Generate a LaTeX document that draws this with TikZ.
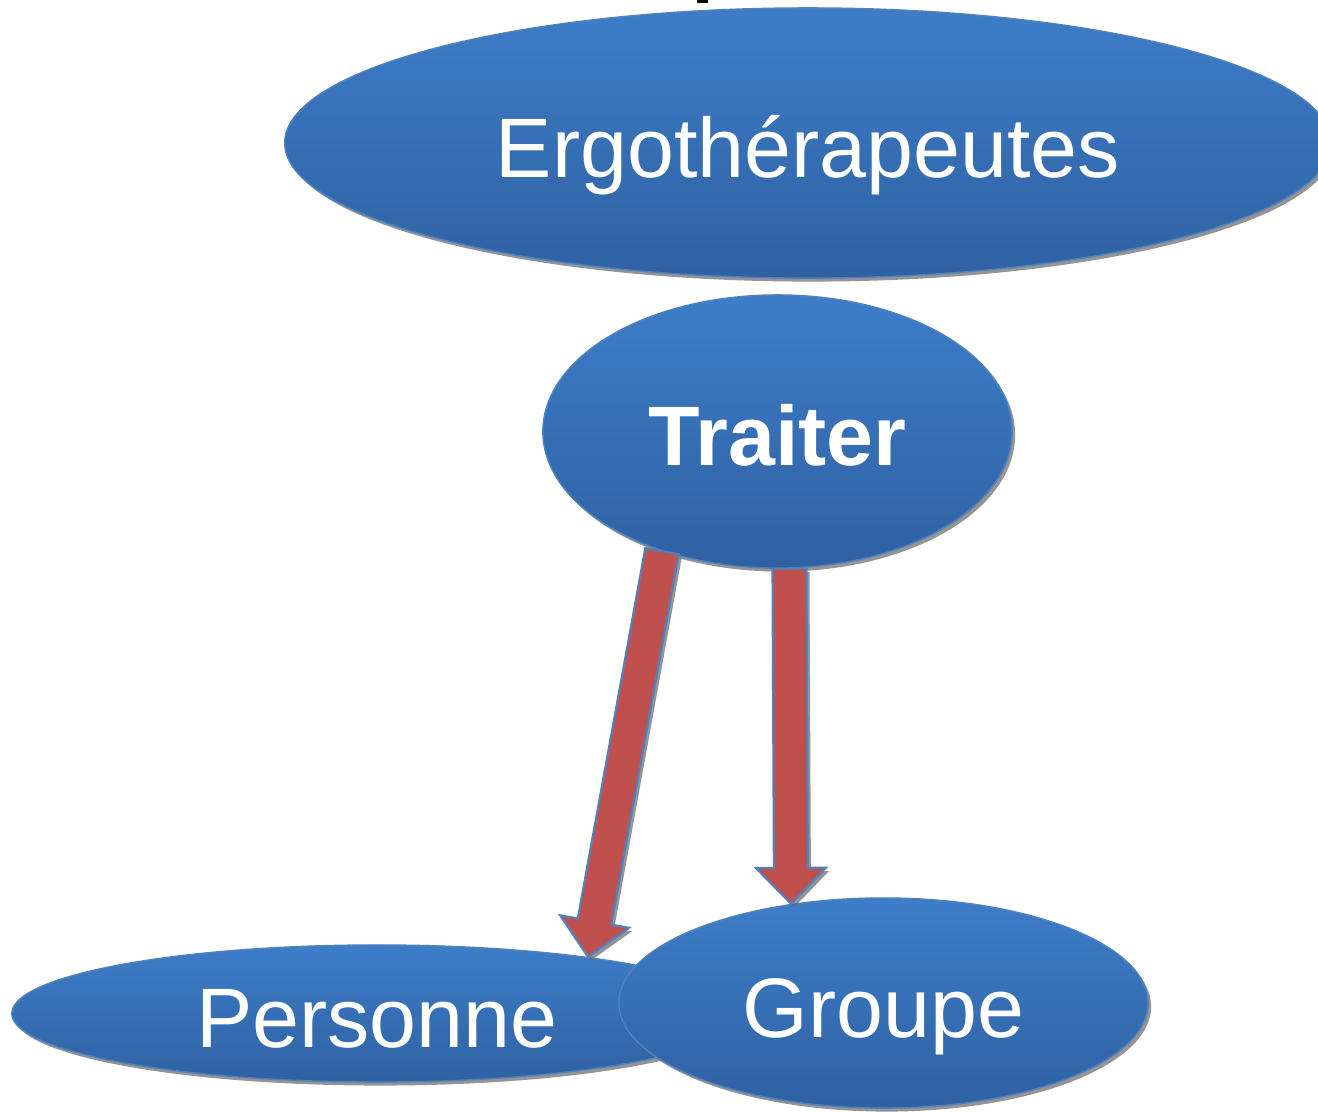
\documentclass[tikz,border=0pt]{standalone}
\usepackage{fontspec}
\setmainfont{Liberation Sans}
\usepackage{tikz}
\usetikzlibrary{shapes.geometric,shadows,calc}
\definecolor{bluetop}{RGB}{61,125,200}
\definecolor{bluebot}{RGB}{47,97,162}
\definecolor{blueline}{RGB}{79,129,189}
\definecolor{arrowred}{RGB}{192,80,77}

\newcommand{\bigarrow}[2]{%
  \coordinate (headbase) at ($(#2)!3.6mm!(#1)$);
  \filldraw[connect] ($(#1)!1.7mm!90:(#2)$) -- ($(headbase)!1.7mm!90:(#2)$)
    -- ($(headbase)!3.5mm!90:(#2)$) -- (#2) -- ($(headbase)!3.5mm!-90:(#2)$)
    -- ($(headbase)!1.7mm!-90:(#2)$) -- ($(#1)!1.7mm!-90:(#2)$) -- cycle;
}

\begin{document}
\begin{tikzpicture}[x=0.01cm,y=-0.01cm]
\tikzstyle{main}=[ellipse, inner sep=0pt, draw=blueline, line width=0.4pt, top color=bluetop, bottom color=bluebot, text=white, font=\fontsize{24}{29}\selectfont, text height=8mm, text depth=1.2mm, drop shadow={shadow xshift=0.3mm, shadow yshift=-0.35mm, fill=black!60, opacity=0.7}]
\tikzstyle{connect}=[fill=arrowred, draw=blueline, line width=0.6pt, drop shadow={shadow xshift=0.3mm, shadow yshift=-0.35mm, fill=black!60, opacity=0.7}]
  \clip (0,0) rectangle (1318,1111);
  \fill (697,0) rectangle (708,3);
  \node[main, minimum width=10.46cm, minimum height=2.70cm] (ergonode) at (808,143) {Ergothérapeutes};
  \node[main, minimum width=4.69cm, minimum height=2.73cm, font=\bfseries\fontsize{24}{29}\selectfont] (traiternode) at (777.5,431.5) {Traiter};
  \node[main, minimum width=7.30cm, minimum height=1.37cm] (personnenode) at (377,1013.5) {Personne};
  \node[main, minimum width=5.29cm, minimum height=2.10cm] (groupenode) at (883.5,1003) {Groupe};
  \bigarrow{traiternode.226}{personnenode.15}
  \bigarrow{traiternode.275}{groupenode.133}
\end{tikzpicture}
\end{document}
